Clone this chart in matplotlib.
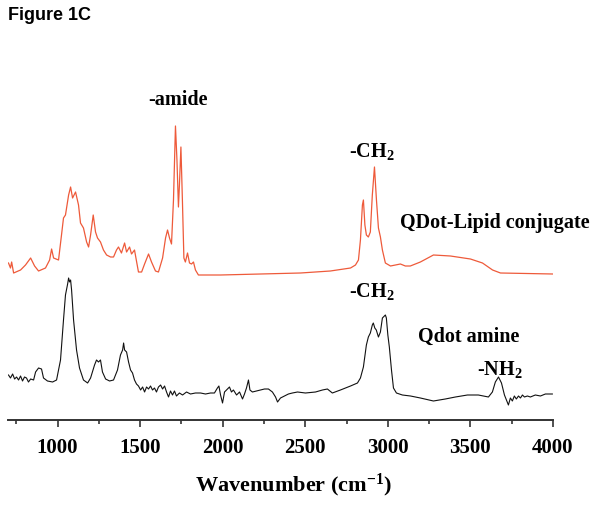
import matplotlib
matplotlib.use("Agg")
import matplotlib.pyplot as plt
from matplotlib.ticker import MultipleLocator

plt.rcParams['mathtext.default'] = 'regular'

# ---- data: QDot-Lipid conjugate (red) ----
wn_lipid = [703, 715, 722, 734, 776, 806, 837, 861, 885, 927, 952, 964, 976, 1006,
            1024, 1036, 1048, 1067, 1079, 1091, 1109, 1127, 1139, 1157, 1176, 1188,
            1200, 1216, 1230, 1242, 1260, 1278, 1297, 1321, 1339, 1357, 1369, 1387,
            1406, 1418, 1436, 1448, 1466, 1479, 1490, 1509, 1527, 1551, 1569, 1593,
            1611, 1636, 1654, 1666, 1678, 1690, 1702, 1714, 1723, 1732, 1738, 1747,
            1756, 1765, 1774, 1787, 1799, 1811, 1823, 1835, 1853, 1987, 2229, 2471,
            2652, 2774, 2804, 2822, 2834, 2846, 2852, 2861, 2870, 2882, 2894, 2906,
            2919, 2931, 2943, 2955, 2967, 2985, 3016, 3046, 3076, 3106, 3136, 3197,
            3276, 3379, 3500, 3573, 3634, 3682, 4000]
ab_lipid = [157, 152, 158, 147, 150, 155, 162, 154, 149, 152, 160, 171, 162, 160,
            185, 202, 205, 225, 233, 222, 228, 215, 197, 192, 178, 173,
            185, 205, 188, 182, 178, 170, 165, 163, 163, 170, 173, 167,
            177, 168, 173, 166, 170, 158, 148, 148, 156, 166, 158, 149,
            148, 162, 182, 190, 182, 176, 220, 294, 260, 213, 235, 273,
            220, 162, 158, 167, 157, 156, 158, 150, 145, 145, 146, 147,
            149, 152, 155, 160, 180, 215, 220, 195, 185, 183, 188, 225,
            253, 220, 192, 183, 170, 157, 154, 155, 156, 154, 154, 158,
            165, 164, 161, 157, 150, 147, 146]

# ---- data: Qdot amine (black) ----
wn_amine = [703, 715, 728, 740, 752, 764, 776, 788, 800, 812, 824, 837, 855, 867,
            885, 903, 915, 939, 970, 994, 1018, 1036, 1048, 1061, 1067, 1073, 1079,
            1085, 1097, 1115, 1133, 1157, 1182, 1200, 1224, 1236, 1248, 1260, 1272,
            1291, 1315, 1339, 1363, 1381, 1394, 1400, 1406, 1418, 1430, 1442, 1454,
            1466, 1478, 1490, 1503, 1515, 1527, 1539, 1551, 1563, 1575, 1587, 1599,
            1611, 1624, 1636, 1648, 1660, 1672, 1684, 1696, 1708, 1720, 1738, 1757,
            1781, 1805, 1835, 1866, 1896, 1926, 1950, 1968, 1977, 1987, 1999, 2011,
            2029, 2041, 2053, 2065, 2084, 2102, 2120, 2132, 2144, 2156, 2165, 2180,
            2205, 2229, 2253, 2277, 2301, 2320, 2332, 2350, 2374, 2398, 2422, 2453,
            2501, 2562, 2604, 2634, 2664, 2713, 2774, 2816, 2834, 2852, 2870, 2882,
            2894, 2906, 2912, 2921, 2930, 2943, 2955, 2967, 2979, 2985, 2991, 3000,
            3009, 3022, 3034, 3052, 3088, 3137, 3197, 3276, 3348, 3409, 3482, 3548,
            3609, 3633, 3651, 3670, 3688, 3706, 3718, 3730, 3742, 3754, 3766, 3778,
            3791, 3803, 3815, 3827, 3845, 3863, 3893, 3924, 3954, 3996]
ab_amine = [45, 42, 46, 41, 43, 40, 44, 39, 43, 42, 38, 41, 40, 48,
            52, 51, 42, 39, 38, 40, 60, 100, 125, 136, 142, 138, 140,
            130, 100, 70, 52, 40, 37, 42, 55, 60, 58, 60, 48,
            41, 39, 40, 50, 65, 70, 77, 70, 68, 58, 50, 47,
            40, 36, 34, 30, 33, 28, 33, 31, 34, 30, 32, 28,
            33, 35, 31, 34, 28, 23, 29, 25, 29, 24, 27, 25,
            28, 26, 27, 27, 26, 27, 27, 32, 34, 25, 17, 28,
            31, 33, 28, 30, 25, 28, 21, 26, 32, 40, 30, 28,
            29, 30, 31, 31, 28, 23, 18, 22, 24, 26, 27, 28,
            27, 28, 30, 31, 27, 30, 34, 37, 42, 53, 75, 83,
            87, 95, 97, 92, 90, 83, 88, 102, 104, 105, 102, 85,
            73, 50, 32, 27, 25, 24, 22, 19, 21, 23, 25, 25,
            23, 28, 38, 43, 37, 25, 20, 15, 22, 19, 24, 21,
            24, 22, 25, 23, 24, 23, 25, 24, 26, 26]

x_ticks = [1000, 1500, 2000, 2500, 3000, 3500, 4000]

W, H = 602, 507
fig = plt.figure(figsize=(W / 100, H / 100), dpi=100)
ax = fig.add_axes([8 / W, (H - 420) / H, (553 - 8) / W, 360 / H])

ax.plot(wn_lipid, ab_lipid, color='#EE5A3A', lw=0.9)
ax.plot(wn_amine, ab_amine, color='#111111', lw=0.8)

ax.set_xlim(700, 4000)
ax.set_ylim(0, 360)
for s in ['left', 'right', 'top']:
    ax.spines[s].set_visible(False)
ax.spines['bottom'].set_color('#333333')
ax.spines['bottom'].set_linewidth(1.4)
ax.set_yticks([])
ax.set_xticks(x_ticks)
ax.xaxis.set_minor_locator(MultipleLocator(250))
ax.tick_params(axis='x', which='major', direction='out', length=5, width=1.2,
               color='#333333', pad=8)
ax.tick_params(axis='x', which='minor', direction='out', length=3, width=1.2,
               color='#333333')
for lab in ax.get_xticklabels():
    lab.set_fontfamily('Liberation Serif')
    lab.set_fontweight('bold')
    lab.set_fontsize(15)

serif = dict(family='Liberation Serif', fontweight='bold', fontsize=14.5)
ax.text(1732, 320, '-amide', ha='center', va='center', **serif)
ax.text(2901, 268, '-CH$_2$', ha='center', va='center', **serif)
ax.text(3076, 197, 'QDot-Lipid conjugate', ha='left', va='center', **serif)
ax.text(2901, 128, '-CH$_2$', ha='center', va='center', **serif)
ax.text(3185, 83, 'Qdot amine', ha='left', va='center', **serif)
ax.text(3675, 50, '-NH$_2$', ha='center', va='center', **serif)

fig.text(294 / W, 1 - 485 / H, 'Wavenumber (cm$^{-1}$)', ha='center', va='center',
         family='Liberation Serif', fontweight='bold', fontsize=16)
fig.text(8 / W, 1 - 16 / H, 'Figure 1C', ha='left', va='center',
         family='Liberation Sans', fontweight='bold', fontsize=13)

fig.savefig('out.png', dpi=100)
